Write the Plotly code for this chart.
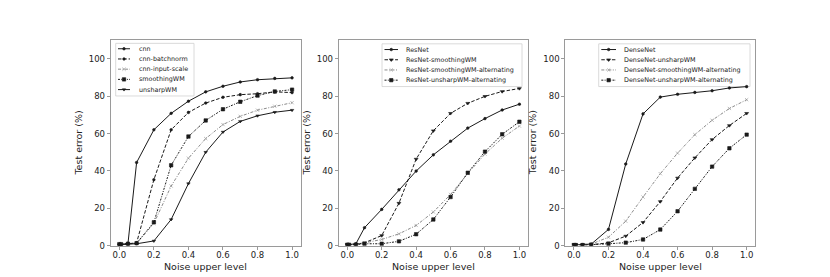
import plotly.graph_objects as go

# ---------------- data ----------------
noise_levels = [0.0, 0.01, 0.05, 0.1, 0.2, 0.3, 0.4, 0.5, 0.6, 0.7, 0.8, 0.9, 1.0]

cnn = [0.5, 0.5, 1.2, 44.5, 62.0, 70.8, 77.3, 82.3, 85.3, 87.6, 88.8, 89.5, 89.8]
cnn_batchnorm = [0.5, 0.5, 1.0, 1.5, 35.3, 62.0, 71.3, 76.3, 79.4, 80.8, 81.3, 82.3, 81.9]
cnn_input_scale = [0.5, 0.5, 1.0, 1.2, 11.9, 31.9, 46.8, 57.3, 64.8, 69.2, 72.5, 74.6, 76.5]
smoothing_wm = [0.8, 0.8, 1.0, 1.3, 12.5, 43.0, 58.4, 67.0, 73.0, 77.0, 80.3, 82.5, 83.5]
unsharp_wm = [0.5, 0.5, 0.8, 1.0, 2.5, 14.0, 33.2, 50.0, 60.8, 66.5, 69.5, 71.4, 72.5]

resnet = [0.5, 0.5, 1.0, 9.6, 19.4, 29.9, 39.9, 48.6, 55.9, 62.9, 68.0, 72.6, 75.7]
resnet_smoothing = [0.5, 0.5, 0.8, 1.5, 5.4, 22.7, 46.3, 61.5, 70.8, 76.2, 79.9, 82.5, 84.1]
resnet_smoothing_alt = [0.5, 0.5, 0.8, 1.5, 3.3, 6.3, 10.8, 18.0, 27.4, 38.6, 49.0, 57.5, 64.0]
resnet_unsharp_alt = [0.5, 0.5, 0.5, 1.0, 1.0, 2.3, 6.1, 14.0, 26.0, 39.0, 50.3, 59.6, 66.3]

densenet = [0.5, 0.5, 0.5, 0.8, 8.7, 43.7, 70.5, 79.5, 81.0, 82.0, 82.9, 84.4, 85.1]
densenet_unsharp = [0.5, 0.5, 0.5, 0.5, 1.5, 5.1, 12.4, 23.6, 36.2, 47.0, 56.8, 64.3, 70.8]
densenet_smoothing_alt = [0.5, 0.5, 0.5, 0.8, 4.5, 13.1, 26.0, 38.5, 49.5, 59.4, 67.1, 73.4, 78.1]
densenet_unsharp_alt = [0.3, 0.3, 0.3, 0.5, 1.0, 1.6, 3.3, 8.6, 18.4, 30.4, 42.3, 52.1, 59.4]

x_ticks = [0.0, 0.2, 0.4, 0.6, 0.8, 1.0]
x_tick_labels = ["0.0", "0.2", "0.4", "0.6", "0.8", "1.0"]
y_ticks = [0, 20, 40, 60, 80, 100]
y_tick_labels = ["0", "20", "40", "60", "80", "100"]
x_title = "Noise upper level"
y_title = "Test error (%)"

# ---------------- styles ----------------
BLACK = "#1a1a1a"
GREY = "#8a8a8a"
STYLES = {
    "solid_dot": dict(color=BLACK, dash="solid", symbol="circle", size=2.6),
    "dash_dot": dict(color=BLACK, dash="3.5px,1.8px", symbol="circle", size=2.6),
    "dash_tri": dict(color=BLACK, dash="3.5px,1.8px", symbol="triangle-down", size=3.4),
    "grey_x": dict(color=GREY, dash="3px,1.5px,1px,1.5px", symbol="x-thin-open", size=3.2),
    "dot_sq": dict(color=BLACK, dash="2px,1.3px,1px,1.3px", symbol="square", size=3.4),
    "solid_tri": dict(color=BLACK, dash="solid", symbol="triangle-down", size=3.0),
}

panels = [
    [("cnn", cnn, "solid_dot"), ("cnn-batchnorm", cnn_batchnorm, "dash_dot"),
     ("cnn-input-scale", cnn_input_scale, "grey_x"), ("smoothingWM", smoothing_wm, "dot_sq"),
     ("unsharpWM", unsharp_wm, "solid_tri")],
    [("ResNet", resnet, "solid_dot"), ("ResNet-smoothingWM", resnet_smoothing, "dash_tri"),
     ("ResNet-smoothingWM-alternating", resnet_smoothing_alt, "grey_x"),
     ("ResNet-unsharpWM-alternating", resnet_unsharp_alt, "dot_sq")],
    [("DenseNet", densenet, "solid_dot"), ("DenseNet-unsharpWM", densenet_unsharp, "dash_tri"),
     ("DenseNet-smoothingWM-alternating", densenet_smoothing_alt, "grey_x"),
     ("DenseNet-unsharpWM-alternating", densenet_unsharp_alt, "dot_sq")],
]

W, H = 830, 277
FONT = "DejaVu Sans"
panel_px = [(102.7, 292.7), (330.7, 520.0), (557.3, 747.3)]
top_px, bottom_px = 32.7, 242.0
legend_px = [
    (107.7, 186.0, 36.0, 41.5, 110.0, 122.0, 129.0),
    (374.0, 514.0, 36.5, 42.3, 376.5, 390.0, 396.0),
    (590.7, 742.0, 36.5, 42.3, 593.3, 608.0, 614.0),
]
ENTRY_GAP = 10.4
XTITLE_Y = 263.5
YTITLE_OFFSET = 32.0

fig = go.Figure()
layout = dict(
    width=W, height=H, margin=dict(l=0, r=0, t=0, b=0),
    paper_bgcolor="white", plot_bgcolor="rgba(0,0,0,0)", showlegend=False,
    font=dict(family=FONT, size=9, color="#222"),
)
shapes, annotations = [], []

for i, series in enumerate(panels):
    n = "" if i == 0 else str(i + 1)
    xa, ya = "x" + n, "y" + n
    for name, vals, sk in series:
        st = STYLES[sk]
        fig.add_trace(go.Scatter(
            x=noise_levels, y=vals, name=name, xaxis=xa, yaxis=ya, mode="lines+markers",
            line=dict(color=st["color"], width=1, dash=st["dash"]),
            marker=dict(symbol=st["symbol"], size=st["size"], color=st["color"],
                        line=dict(width=0.6, color=st["color"])),
        ))
    l, r = panel_px[i]
    axis_common = dict(showgrid=False, zeroline=False, showline=True, mirror=True,
                       linecolor="#9a9a9a", linewidth=1, ticks="outside", ticklen=3,
                       tickcolor="#9a9a9a", tickfont=dict(family=FONT, size=8.5, color="#222"))
    layout["xaxis" + n] = dict(
        domain=[l / W, r / W], range=[-0.05, 1.05], anchor=ya,
        tickvals=x_ticks, ticktext=x_tick_labels, ticklabelstandoff=-2, **axis_common)
    layout["yaxis" + n] = dict(
        domain=[1 - bottom_px / H, 1 - top_px / H], range=[0, 110], anchor=xa,
        tickvals=y_ticks, ticktext=y_tick_labels, **axis_common)
    annotations.append(dict(text=x_title, xref="paper", yref="paper",
                            x=(l + r) / 2 / W, y=1 - XTITLE_Y / H, xanchor="center",
                            yanchor="middle", showarrow=False,
                            font=dict(family=FONT, size=9.5, color="#222")))
    annotations.append(dict(text=y_title, xref="paper", yref="paper", textangle=-90,
                            x=(l - YTITLE_OFFSET) / W, y=1 - (top_px + bottom_px) / 2 / H,
                            xanchor="center", yanchor="middle", showarrow=False,
                            font=dict(family=FONT, size=9.5, color="#222")))

    # custom compact legend (matplotlib style)
    bl, br, bt, ey0, lx0, lx1, tx = legend_px[i]
    bb = ey0 + ENTRY_GAP * (len(series) - 1) + 6.5
    shapes.append(dict(type="rect", xref="paper", yref="paper",
                       x0=bl / W, x1=br / W, y0=1 - bb / H, y1=1 - bt / H,
                       line=dict(color="#d0d0d0", width=0.8), fillcolor="white",
                       layer="below"))
    for k, (name, vals, sk) in enumerate(series):
        st = STYLES[sk]
        ey = ey0 + ENTRY_GAP * k
        fig.add_trace(go.Scatter(
            x=[lx0, lx1], y=[ey, ey], xaxis="x4", yaxis="y4", mode="lines",
            line=dict(color=st["color"], width=1, dash=st["dash"]), hoverinfo="skip"))
        fig.add_trace(go.Scatter(
            x=[(lx0 + lx1) / 2], y=[ey], xaxis="x4", yaxis="y4", mode="markers",
            marker=dict(symbol=st["symbol"], size=st["size"], color=st["color"],
                        line=dict(width=0.6, color=st["color"])), hoverinfo="skip"))
        annotations.append(dict(text=name, xref="paper", yref="paper",
                                x=tx / W, y=1 - ey / H, xanchor="left", yanchor="middle",
                                showarrow=False, font=dict(family=FONT, size=6.4, color="#222")))

layout["xaxis4"] = dict(domain=[0, 1], range=[0, W], visible=False, anchor="y4", fixedrange=True)
layout["yaxis4"] = dict(domain=[0, 1], range=[H, 0], visible=False, anchor="x4", fixedrange=True)
layout["shapes"] = shapes
layout["annotations"] = annotations
fig.update_layout(**layout)
fig.write_html("out.html")
